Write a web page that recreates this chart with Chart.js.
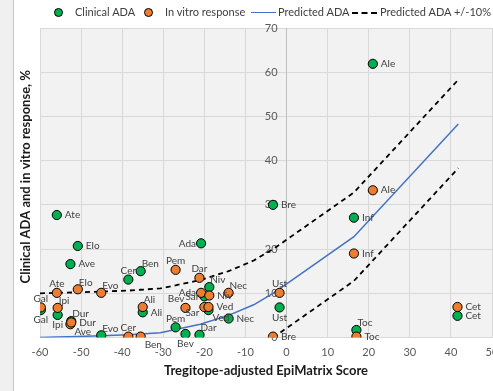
<!DOCTYPE html>
<html><head><meta charset="utf-8">
<script src="https://cdn.jsdelivr.net/npm/chart.js@4.4.1/dist/chart.umd.min.js"></script>
<style>
html,body{margin:0;padding:0;background:#f0f0f0;width:493px;height:391px;overflow:hidden;font-family:Lato,"Open Sans",sans-serif;}
#frame{position:absolute;left:13px;top:0;width:480px;height:391px;border-left:1px solid #c6c6c6;background:#fff;overflow:hidden;}
#wrap{position:absolute;left:0;top:0;width:507px;height:391px;}
#legend{position:absolute;left:0;top:0;width:480px;height:26px;font-size:11px;color:#404040;z-index:2;}
.lt{position:absolute;top:5px;line-height:14px;white-space:nowrap;}
.dot{position:absolute;top:8px;width:7px;height:7px;border-radius:50%;border:1px solid #000;}
.ln{position:absolute;top:12px;height:0;width:25px;}
</style></head>
<body>
<div id="frame">
  <div id="legend">
    <span class="dot" style="left:40px;background:#00b050"></span><span class="lt" style="left:61px">Clinical ADA</span>
    <span class="dot" style="left:130px;background:#ed7d31"></span><span class="lt" style="left:151px">In vitro response</span>
    <span class="ln" style="left:237px;border-top:1.5px solid #4472c4"></span><span class="lt" style="left:264px">Predicted ADA</span>
    <span class="ln" style="left:338px;border-top:2px dashed #000"></span><span class="lt" style="left:366px">Predicted ADA +/-10%</span>
  </div>
  <div id="wrap"><canvas id="c"></canvas></div>
</div>
<script>
const drugs = ['Ate','Elo','Ave','Cer','Ben','Evo','Gal','Ipi','Dur','Ali','Pem','Ada','Dar','Niv','Bev','Sar','Ved','Nec','Ust','Bre','Inf','Ale','Toc','Cet'];
const score = [-55.9,-50.8,-52.6,-38.5,-35.5,-45.1,-59.8,-55.7,-52.4,-35.0,-27.0,-20.8,-21.2,-18.8,-24.6,-20.0,-19.0,-14.1,-1.7,-3.3,16.4,21.0,17.0,41.6];
const clinicalADA = [27.7,20.7,16.6,13.1,15.0,0.5,6.2,5.1,3.7,5.7,2.3,21.3,0.6,11.4,0.8,9.3,6.2,4.3,6.8,30.0,27.1,61.9,1.7,4.9];
const inVitro = [10.1,10.9,3.0,0.2,0.2,10.1,6.8,6.7,3.4,6.9,15.3,10.1,13.5,9.5,6.7,6.9,6.9,10.1,10.1,0.2,19.0,33.3,0.2,6.9];
const clinicalLabelPos = ['r','r','r','t','tr','tr','b','b','tr','r','t','l','tr','tr','b','l','br','r','b','r','r','r','tr','r'];
const inVitroLabelPos = ['t','tr','br','t','br','tr','t','tr','r','tr','t','l','t','r','tl','bl','r','tr','t','r','r','r','r','r'];
const predX = [-60,-55.9,-50.8,-45.1,-38.5,-35.5,-30.7,-27,-21,-14.1,-8,-3.3,-1.7,16.4,41.8];
const predY = [0,0.1,0.2,0.4,0.6,0.8,1.1,1.8,3.0,5.0,7.4,10.0,11.0,22.8,48.3];
const upperX = [-60,-55.9,-50.8,-45.1,-38.5,-35.5,-30.7,-27,-21,-14.1,-8,-3.3,-1.7,16.4,41.8];
const upperY = [10,10.1,10.2,10.4,10.6,10.8,11.1,11.8,13.0,15.0,17.4,20.0,21.0,32.8,58.3];
const lowerX = [-3.3,-1.7,16.4,41.8];
const lowerY = [0,1.0,12.8,38.3];
const xTickValues = [-60,-50,-40,-30,-20,-10,0,10,20,30,40,50];
const yTickValues = [0,10,20,30,40,50,60,70];
const xTitle = 'Tregitope-adjusted EpiMatrix Score';
const yTitle = 'Clinical ADA and in vitro response, %';

const pts = (xs, ys) => xs.map((x, i) => ({x: x, y: ys[i]}));
const FONT = 'Lato, "Open Sans", sans-serif';

const OFF = {r:[8,0,'left'], l:[-5,0,'right'], t:[0,-9,'center'], b:[0,10,'center'],
  tr:[1,-7,'left'], br:[4,8,'left'], tl:[-1,-9,'right'], bl:[-5,6,'right']};

const plotBg = {id:'plotBg', beforeDraw(c){const a=c.chartArea,ctx=c.ctx;ctx.save();ctx.fillStyle='#f2f2f2';ctx.fillRect(a.left,a.top,a.right-a.left,a.bottom-a.top);ctx.restore();}};
const yTickLabels = {id:'yTickLabels', beforeDatasetsDraw(c){
  const ctx=c.ctx, x0=c.scales.x.getPixelForValue(0); ctx.save();
  ctx.font='11px '+FONT; ctx.fillStyle='#595959'; ctx.textAlign='right'; ctx.textBaseline='middle';
  yTickValues.forEach(v=>ctx.fillText(String(v), x0-9, c.scales.y.getPixelForValue(v)));
  ctx.restore(); }};
const pointLabels = {id:'pointLabels', afterDatasetsDraw(c){
  const ctx=c.ctx; ctx.save(); ctx.font='10px '+FONT; ctx.fillStyle='#404040'; ctx.textBaseline='middle';
  c.data.datasets.forEach((ds,i)=>{ if(!ds.labelPos) return; const meta=c.getDatasetMeta(i);
    meta.data.forEach((el,j)=>{ const o=OFF[ds.labelPos[j]]; ctx.textAlign=o[2]; ctx.fillText(drugs[j], el.x+o[0], el.y+o[1]); }); });
  ctx.restore(); }};
const titles = {id:'titles', afterDraw(c){
  const a=c.chartArea,ctx=c.ctx; ctx.save(); ctx.font='bold 13px '+FONT; ctx.fillStyle='#1a1a1a';
  ctx.textAlign='center'; ctx.textBaseline='middle';
  ctx.fillText(xTitle,(a.left+a.right)/2,a.bottom+33);
  ctx.translate(11.5,(a.top+a.bottom)/2-6); ctx.rotate(-Math.PI/2); ctx.fillText(yTitle,0,0);
  ctx.restore(); }};

new Chart(document.getElementById('c'), {
  type:'scatter',
  data:{datasets:[
    {label:'In vitro response', data:pts(score,inVitro), labelPos:inVitroLabelPos, backgroundColor:'#ed7d31', borderColor:'#000', borderWidth:1, pointRadius:4.6, order:1},
    {label:'Clinical ADA', data:pts(score,clinicalADA), labelPos:clinicalLabelPos, backgroundColor:'#00b050', borderColor:'#000', borderWidth:1, pointRadius:4.6, order:2},
    {label:'Predicted ADA', data:pts(predX,predY), showLine:true, borderColor:'#4472c4', borderWidth:1.5, pointRadius:0, order:3},
    {label:'Predicted ADA +/-10%', data:pts(upperX,upperY), showLine:true, borderColor:'#000', borderWidth:1.8, borderDash:[5,4], pointRadius:0, order:4},
    {label:'Predicted ADA -10%', data:pts(lowerX,lowerY), showLine:true, borderColor:'#000', borderWidth:1.8, borderDash:[5,4], pointRadius:0, order:5}
  ]},
  options:{
    responsive:true, maintainAspectRatio:false, animation:false, events:[],
    layout:{padding:{left:26,right:29,top:28,bottom:0}},
    plugins:{legend:{display:false}, tooltip:{enabled:false}},
    scales:{
      x:{type:'linear', position:'bottom', min:-60, max:50,
        afterBuildTicks(s){s.ticks=xTickValues.map(v=>({value:v}));},
        afterFit(s){s.height=53.5;},
        grid:{color:'#d9d9d9', drawTicks:false, lineWidth:1},
        border:{color:'#d9d9d9'},
        ticks:{padding:8, color:'#595959', font:{family:FONT,size:11}}},
      y:{type:'linear', position:{x:0}, min:0, max:70,
        afterBuildTicks(s){s.ticks=yTickValues.map(v=>({value:v}));},
        grid:{color:'#d9d9d9', drawTicks:false, lineWidth:1},
        border:{color:'#bfbfbf'},
        ticks:{display:false}}
    }
  },
  plugins:[plotBg, yTickLabels, pointLabels, titles]
});
</script>
</body></html>
